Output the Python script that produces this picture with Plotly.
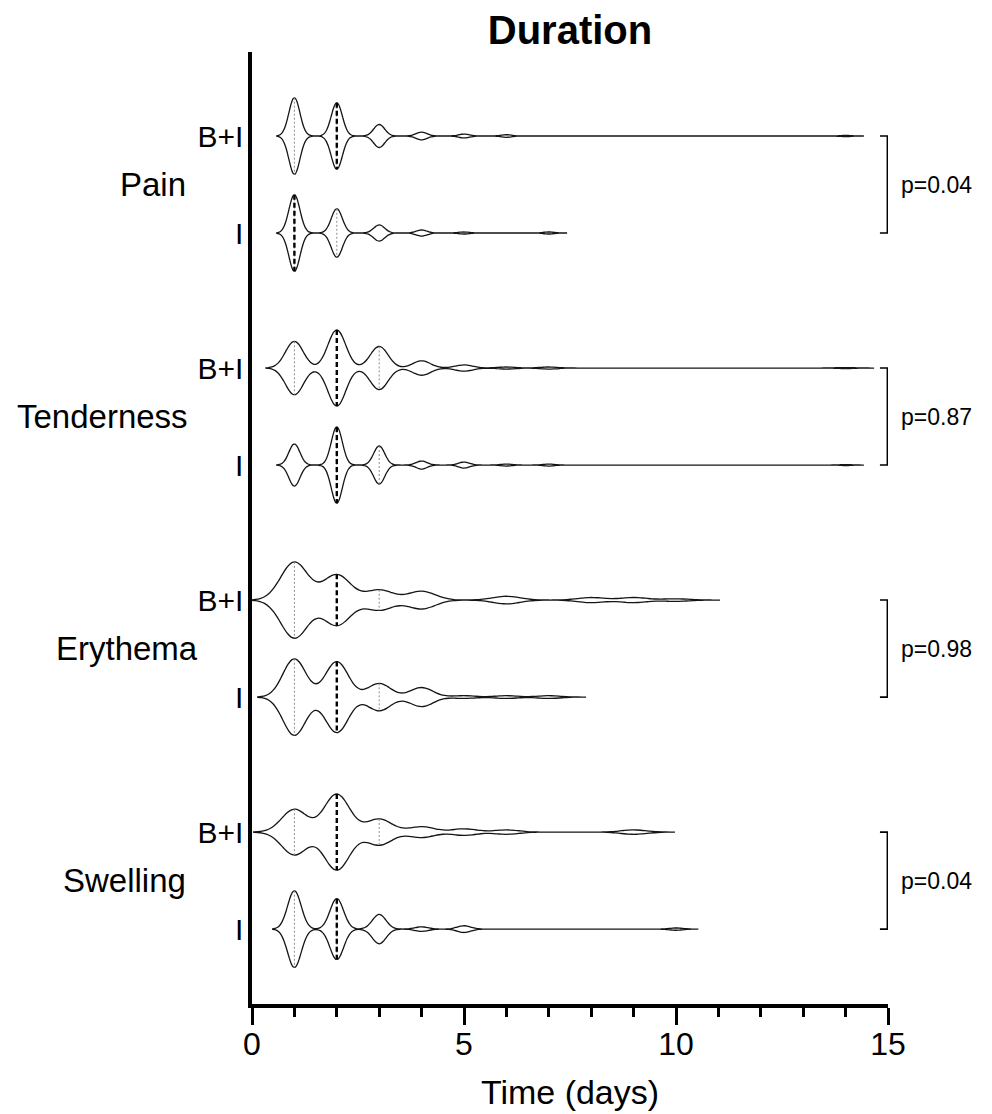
import numpy as np
import plotly.graph_objects as go

# ---------------- data ----------------
SYMPTOMS = ["Pain", "Tenderness", "Erythema", "Swelling"]
GROUPS = ["B+I", "I"]
P_VALUES = ["p=0.04", "p=0.87", "p=0.98", "p=0.04"]

# duration in days and number of subjects with that duration
PAIN_BI_DAYS = [1, 2, 3, 4, 5, 6, 14]
PAIN_BI_N = [60, 52, 18, 6, 3, 2, 1]
PAIN_I_DAYS = [1, 2, 3, 4, 5, 7]
PAIN_I_N = [38, 24, 8, 3, 1, 1]
TEND_BI_DAYS = [1, 2, 3, 4, 5, 6, 7, 14]
TEND_BI_N = [52, 74, 42, 14, 6, 2, 2, 1]
TEND_I_DAYS = [1, 2, 3, 4, 5, 6, 7, 14]
TEND_I_N = [42, 76, 38, 8, 6, 2, 2, 1]
ERY_BI_DAYS = [1, 2, 3, 4, 6, 8, 9, 10]
ERY_BI_N = [30, 20, 8, 7, 3, 2, 2, 1]
ERY_I_DAYS = [1, 2, 3, 4, 5, 6, 7]
ERY_I_N = [28, 26, 10, 7, 1, 1, 1]
SWE_BI_DAYS = [1, 2, 3, 4, 5, 6, 9]
SWE_BI_N = [21, 35, 12, 5, 3, 2, 2]
SWE_I_DAYS = [1, 2, 3, 4, 5, 10]
SWE_I_N = [34, 27, 13, 2, 3, 1]

# kernel bandwidth of each violin (smoothing)
BANDWIDTH = [0.13, 0.13, 0.21, 0.13, 0.32, 0.27, 0.30, 0.16]

SERIES = [
    (PAIN_BI_DAYS, PAIN_BI_N), (PAIN_I_DAYS, PAIN_I_N),
    (TEND_BI_DAYS, TEND_BI_N), (TEND_I_DAYS, TEND_I_N),
    (ERY_BI_DAYS, ERY_BI_N), (ERY_I_DAYS, ERY_I_N),
    (SWE_BI_DAYS, SWE_BI_N), (SWE_I_DAYS, SWE_I_N),
]

# ---------------- layout constants ----------------
GROUP_STEP = 2.392
Y_RANGE = [8.948, -0.866]
VIOLIN_WIDTH = 0.784
SPAN_PAD = 3.2
FONT = "Arial, Liberation Sans, Helvetica, sans-serif"
PAGE_OFFSET = 8  # browser body margin


def kde(vals, bw, x):
    x = np.atleast_1d(np.asarray(x, dtype=float))
    u = (x[:, None] - vals[None, :]) / bw
    return np.exp(-0.5 * u * u).sum(axis=1) / (len(vals) * bw * np.sqrt(2 * np.pi))


def plotly_max_kde(vals, bw, span):
    dist = span[1] - span[0]
    n = int(np.ceil(dist / (bw / 3.0)))
    step = dist / n
    t = span[0] + step * np.arange(n + 1)
    return kde(vals, bw, t).max()


fig = go.Figure()

positions = []
for i, ((days, counts), bw) in enumerate(zip(SERIES, BANDWIDTH)):
    g, k = divmod(i, 2)
    pos = g * GROUP_STEP + k
    positions.append(pos)
    vals = np.repeat(np.asarray(days, dtype=float), counts)
    span = [vals.min() - SPAN_PAD * bw, vals.max() + SPAN_PAD * bw]
    fig.add_trace(go.Violin(
        x=vals, y0=pos, orientation="h", name=f"{SYMPTOMS[g]} {GROUPS[k]}",
        bandwidth=bw, spanmode="manual", span=span, width=VIOLIN_WIDTH,
        scalemode="width", scalegroup=f"g{i}", side="both",
        line=dict(color="#151515", width=1.3), fillcolor="rgba(255,255,255,0)",
        points=False, box_visible=False, meanline_visible=False,
        hoverinfo="skip", showlegend=False,
    ))
    maxk = plotly_max_kde(vals, bw, span)
    q1, med, q3 = np.percentile(vals, [25, 50, 75])
    for q, is_med in ((q1, False), (q3, False), (med, True)):
        w = kde(vals, bw, q)[0] / maxk * VIOLIN_WIDTH / 2
        if is_med:
            ln = dict(color="black", width=2.4, dash="5px,3px")
        else:
            ln = dict(color="#8c8c8c", width=1, dash="2px,2px")
        fig.add_trace(go.Scatter(
            x=[q, q], y=[pos - w, pos + w], mode="lines", line=ln,
            hoverinfo="skip", showlegend=False,
        ))

# brackets and p-values
shapes = []
annotations = []
for g in range(4):
    y_top = positions[2 * g]
    y_bot = positions[2 * g + 1]
    shapes.append(dict(
        type="path", xref="x", yref="y",
        path=f"M 14.81 {y_top} L 14.985 {y_top} L 14.985 {y_bot} L 14.81 {y_bot}",
        line=dict(color="black", width=1.6),
    ))
    annotations.append(dict(
        text=P_VALUES[g], xref="paper", yref="y", x=1.017, y=(y_top + y_bot) / 2,
        xanchor="left", yanchor="middle", showarrow=False,
        font=dict(size=23, color="black", family=FONT),
    ))

# symptom labels (pixel centres converted to paper fraction)
LABEL_CENTER_PX = [153, 102, 127, 124]
for g in range(4):
    annotations.append(dict(
        text=SYMPTOMS[g], xref="paper", yref="y",
        x=(LABEL_CENTER_PX[g] - 252) / 636.0,
        y=(positions[2 * g] + positions[2 * g + 1]) / 2,
        xanchor="center", yanchor="middle", showarrow=False,
        font=dict(size=33, color="black", family=FONT),
    ))

fig.update_layout(
    width=992, height=1114,
    margin=dict(l=252 - PAGE_OFFSET, r=104 + PAGE_OFFSET,
                t=52 - PAGE_OFFSET, b=110 + PAGE_OFFSET),
    plot_bgcolor="white", paper_bgcolor="white",
    font=dict(family=FONT, color="black"),
    showlegend=False,
    title=dict(text="<b>Duration</b>", x=0.5, xref="paper", xanchor="center",
               y=1 - (30 - PAGE_OFFSET) / 1114, yref="container", yanchor="middle",
               font=dict(size=40, color="black", family=FONT)),
    shapes=shapes, annotations=annotations,
    xaxis=dict(
        range=[0, 15], showline=True, linewidth=3.5, linecolor="black",
        ticks="outside", tickwidth=3, ticklen=17, tickcolor="black",
        tick0=0, dtick=5, tickfont=dict(size=32, color="black"),
        ticklabelstandoff=-8,
        showgrid=False, zeroline=False,
        minor=dict(dtick=1, tick0=0, ticks="outside", ticklen=9, tickwidth=3,
                   tickcolor="black", showgrid=False),
        title=dict(text="Time (days)", font=dict(size=34, color="black"), standoff=20),
    ),
    yaxis=dict(
        type="linear", range=Y_RANGE, showline=True, linewidth=3.5, linecolor="black",
        ticks="", tickmode="array", tickvals=positions,
        ticktext=[GROUPS[i % 2] for i in range(8)],
        tickfont=dict(size=30, color="black"), ticklabelstandoff=-1,
        showgrid=False, zeroline=False,
    ),
)

fig.write_html("out.html")
